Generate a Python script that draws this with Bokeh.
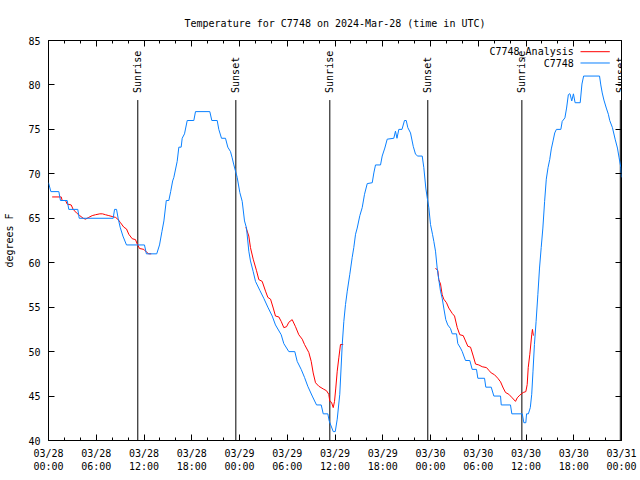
import math
from bokeh.plotting import figure
from bokeh.models import FixedTicker, LinearAxis, Label, Range1d
from bokeh.embed import file_html
from bokeh.resources import INLINE

# ---------------- data (hours since 2024-03-28 00:00 UTC, degrees F) ----------------
title_text = "Temperature for C7748 on 2024-Mar-28 (time in UTC)"

station_hours = [
    0.0, 0.3, 1.3, 1.5, 2.35, 2.55, 3.68, 3.86, 8.13, 8.3, 8.55, 8.75, 9.0, 9.35, 9.8,
    12.06, 12.3, 13.6, 13.95, 14.25, 14.5, 14.8, 15.12, 15.35, 15.6, 15.75, 16.17, 16.38,
    16.67, 16.8, 17.09, 17.43, 18.26, 18.47, 20.27, 20.52, 21.2, 21.4, 21.74, 22.24, 22.53,
    22.87, 23.08, 23.29, 23.5, 23.71, 24.04, 24.34, 24.63, 24.88, 25.17, 25.38, 25.72,
    26.01, 26.55, 27.05, 27.56, 28.11, 28.52, 29.24, 29.57, 30.2, 30.95, 31.25, 31.75,
    32.17, 32.58, 33.14, 33.68, 34.27, 34.52, 35.1, 35.27, 35.78, 36.03, 36.28, 36.6,
    36.91, 37.11, 37.32, 37.54, 37.86, 38.16, 38.36, 38.58, 38.79, 39.12, 39.42, 39.71,
    40.05, 40.68, 40.88, 41.09, 41.72, 41.93, 42.26, 42.56, 43.39, 43.6, 43.79, 44.02,
    44.42, 44.73, 44.95, 45.15, 45.49, 45.83, 46.12, 46.4, 46.96, 47.16, 47.41, 47.59,
    47.79, 48.0, 48.25, 48.42, 48.63, 48.84, 49.04, 49.26, 49.47, 49.67, 49.92, 50.17,
    50.51, 50.73, 51.27, 51.43, 51.77, 51.99, 52.19, 52.4, 52.94, 53.24, 53.78, 53.95,
    54.79, 54.95, 55.63, 55.96, 56.8, 56.89, 58.05, 58.22, 59.53, 59.73, 59.98, 60.07,
    60.3, 60.54, 60.72, 60.88, 61.06, 61.27, 61.49, 61.7, 61.91, 62.12, 62.34, 62.55,
    62.77, 62.98, 63.18, 63.4, 63.61, 63.82, 64.38, 64.55, 64.89, 65.1, 65.32, 65.45,
    65.53, 65.75, 65.96, 66.17, 66.81, 67.03, 67.24, 69.24, 69.4, 69.58, 69.79, 70.09,
    70.35, 70.52, 70.86, 71.2, 71.49, 71.7, 71.92, 72.0,
]
station_temps = [
    69, 68, 68, 67, 67, 66, 66, 65, 65, 66, 66, 65, 64, 63, 62,
    62, 61, 61, 62, 63.5, 64.7, 67, 67, 68, 69.2, 69.6, 71.4, 73,
    73, 74, 74.5, 76, 76, 77, 77, 76, 76, 75, 74, 74, 73,
    72.5, 71.8, 71, 70.3, 69.6, 67.9, 66.9, 64.7, 63.9, 61.3, 60.2, 59,
    57.9, 56.9, 56, 55, 54, 53, 51.9, 50.9, 50, 50, 48.9, 48,
    47.1, 46.1, 45, 44, 44, 43, 43, 42.2, 41, 41, 42.4, 45.2,
    50.8, 53.4, 55.3, 56.8, 58.7, 60.6, 61.7, 63.2, 63.9, 65.3, 66.2, 67.7,
    68.9, 69, 70.1, 71, 71, 72, 72.9, 73.9, 74, 74.8, 74, 75,
    75, 76, 76, 75.2, 74.6, 73.1, 72.2, 72, 72, 70.7, 68.4, 67.3,
    66.2, 64.3, 63.2, 62.4, 61.3, 59.4, 58.1, 56.8, 56, 54.9, 53.6, 53,
    52.6, 52, 52, 50.9, 50.4, 50, 49.5, 49, 49, 48, 48, 47,
    47, 46, 46, 45, 45, 44, 44, 43, 43, 42, 42, 43,
    43, 43.7, 45.2, 47.8, 50.8, 53.4, 56.4, 59.4, 61.7, 63.9, 66.9, 69.4,
    70.7, 71.6, 72.8, 73.7, 74.6, 75, 75, 75.9, 76.3, 77.4, 78.9, 79,
    79, 78.2, 79, 78, 78, 80.1, 81, 81, 80, 79.1, 78.3, 77.4,
    76.7, 76, 75.2, 73.9, 72.9, 71.8, 70.7, 69.6,
]

analysis1_hours = [0.46, 1.6, 1.72, 2.14, 2.35, 2.85, 3.1, 3.52, 3.93, 4.36, 4.65, 5.06, 5.49,
                   5.91, 6.45, 6.78, 7.16, 7.58, 8.0, 8.42, 8.71, 9.05, 9.46, 9.8, 10.09,
                   10.52, 10.93, 11.15, 11.44, 11.98, 12.31, 12.6, 12.91]
analysis1_temps = [67.4, 67.4, 67.0, 67.0, 66.6, 66.5, 66.0, 65.6, 65.3, 65.0, 64.9, 65.1, 65.3,
                   65.4, 65.5, 65.5, 65.4, 65.3, 65.2, 65.1, 64.9, 64.5, 64.0, 63.8, 63.2,
                   62.7, 62.6, 62.1, 61.6, 61.5, 61.2, 61.0, 61.0]

analysis2_hours = [24.8, 25.17, 25.38, 25.72, 26.14, 26.43, 26.85, 27.27, 27.56, 27.9, 28.24,
                   28.52, 28.94, 29.24, 29.57, 29.91, 30.2, 30.62, 31.04, 31.45, 31.88, 32.17,
                   32.71, 33.01, 33.26, 33.55, 33.97, 34.52, 34.93, 35.22, 35.35, 35.56, 35.78,
                   35.94, 36.1, 36.28, 36.48, 36.69, 37.03]
analysis2_temps = [64.0, 63.0, 61.7, 60.4, 59.1, 58.1, 57.9, 56.8, 56.1, 55.9, 54.9,
                   54.0, 53.9, 53.4, 52.7, 52.8, 53.3, 53.6, 52.8, 51.9, 51.4, 50.8,
                   49.9, 48.9, 47.6, 46.5, 46.1, 45.8, 45.6, 45.2, 44.4, 44.3, 43.7,
                   44.4, 45.9, 47.8, 49.3, 50.8, 50.8]

analysis3_hours = [48.63, 48.92, 49.04, 49.26, 49.47, 49.67, 50.01, 50.3, 50.73, 51.02, 51.36,
                   51.68, 52.11, 52.4, 52.69, 53.03, 53.37, 53.66, 54.07, 54.5, 55.04, 55.33,
                   55.63, 56.04, 56.46, 56.8, 57.14, 57.43, 57.84, 58.27, 58.68, 58.9, 59.22,
                   59.65, 59.98, 60.15, 60.28, 60.48, 60.72, 60.81, 60.93]
analysis3_temps = [59.4, 59.1, 58.1, 57.6, 56.4, 55.9, 55.5, 54.9, 54.3, 54.0, 52.7,
                   51.9, 51.8, 51.2, 50.6, 50.5, 49.5, 48.6, 48.5, 48.3, 48.2, 47.9,
                   47.6, 47.4, 47.0, 46.6, 45.9, 45.4, 45.2, 44.8, 44.4, 44.8, 45.1,
                   45.4, 45.5, 46.3, 48.2, 49.7, 51.9, 52.5, 51.8]

sunrise_hours = [11.22, 35.35, 59.48]
sunset_hours = [23.54, 47.66, 71.85]

x_tick_hours = [0, 6, 12, 18, 24, 30, 36, 42, 48, 54, 60, 66, 72]
x_tick_labels = ["03/28\n00:00", "03/28\n06:00", "03/28\n12:00", "03/28\n18:00",
                 "03/29\n00:00", "03/29\n06:00", "03/29\n12:00", "03/29\n18:00",
                 "03/30\n00:00", "03/30\n06:00", "03/30\n12:00", "03/30\n18:00",
                 "03/31\n00:00"]
x_minor_hours = [h for h in range(0, 73, 2)]
y_ticks = [40, 45, 50, 55, 60, 65, 70, 75, 80, 85]

legend_names = ["C7748_Analysis", "C7748"]

# ---------------- style ----------------
FONT = "DejaVu Sans Mono"
FS = "10px"
RED = "#ff0000"
BLUE = "#0a80ff"

p = figure(width=640, height=480, output_backend="svg", toolbar_location=None,
           x_range=Range1d(0, 72), y_range=Range1d(40, 85),
           min_border_left=48, min_border_right=19, min_border_top=40, min_border_bottom=40,
           title=title_text)
p.title.text_font = FONT
p.title.text_font_size = FS
p.title.text_font_style = "normal"
p.title.text_color = "black"
p.title.align = "center"
p.title.standoff = 24
p.xgrid.visible = False
p.ygrid.visible = False
p.outline_line_color = "black"
p.outline_line_width = 1
p.outline_line_alpha = 1
p.background_fill_color = "white"
p.border_fill_color = "white"

xt = FixedTicker(ticks=x_tick_hours, minor_ticks=x_minor_hours)
yt = FixedTicker(ticks=y_ticks, minor_ticks=[])

xa = p.xaxis[0]
xa.ticker = xt
xa.major_label_overrides = {h: lab for h, lab in zip(x_tick_hours, x_tick_labels)}
ya = p.yaxis[0]
ya.ticker = yt
ya.axis_label = "degrees F"

for ax in (xa, ya):
    ax.axis_line_color = None
    ax.major_tick_in = 6
    ax.major_tick_out = 0
    ax.minor_tick_in = 3
    ax.minor_tick_out = 0
    ax.major_tick_line_color = "black"
    ax.minor_tick_line_color = "black"
    ax.major_label_text_font = FONT
    ax.major_label_text_font_size = FS
    ax.major_label_text_color = "black"
    ax.axis_label_text_font = FONT
    ax.axis_label_text_font_size = FS
    ax.axis_label_text_font_style = "normal"
    ax.axis_label_text_color = "black"
xa.major_label_standoff = 7
ya.major_label_standoff = 8
ya.axis_label_standoff = 10

top = LinearAxis(ticker=FixedTicker(ticks=x_tick_hours, minor_ticks=x_minor_hours))
right = LinearAxis(ticker=FixedTicker(ticks=y_ticks, minor_ticks=[]))
for ax in (top, right):
    ax.axis_line_color = None
    ax.major_tick_in = 6
    ax.major_tick_out = 0
    ax.minor_tick_in = 3
    ax.minor_tick_out = 0
    ax.major_tick_line_color = "black"
    ax.minor_tick_line_color = "black"
    ax.major_label_text_font_size = "0px"
    ax.major_label_text_alpha = 0
    ax.major_label_standoff = 0
p.add_layout(top, "above")
p.add_layout(right, "right")

# sunrise / sunset markers
sun_hours = sunrise_hours + sunset_hours
sun_names = ["Sunrise"] * len(sunrise_hours) + ["Sunset"] * len(sunset_hours)
p.segment(x0=sun_hours, y0=[40] * len(sun_hours), x1=sun_hours, y1=[78.3] * len(sun_hours),
          line_color="black", line_width=1)
for h, name in zip(sun_hours, sun_names):
    p.add_layout(Label(x=h, y=79.1, text=name, angle=math.pi / 2, text_align="left",
                       text_baseline="middle", text_font=FONT, text_font_size=FS,
                       text_color="black"))

# series
for hrs, tmp in ((analysis1_hours, analysis1_temps), (analysis2_hours, analysis2_temps),
                 (analysis3_hours, analysis3_temps)):
    p.line(hrs, tmp, line_color=RED, line_width=1)
p.line(station_hours, station_temps, line_color=BLUE, line_width=1)

# legend (gnuplot style: text then sample line)
leg_y = [83.8, 82.4]
for name, col, yy in zip(legend_names, [RED, BLUE], leg_y):
    p.add_layout(Label(x=66.0, y=yy, text=name, text_align="right", text_baseline="middle",
                       text_font=FONT, text_font_size=FS, text_color="black"))
p.segment(x0=[66.85, 66.85], y0=[83.74, 82.47], x1=[70.53, 70.53], y1=[83.74, 82.47],
          line_color=[RED, BLUE], line_width=1)

open("out.html", "w").write(file_html(p, INLINE))
